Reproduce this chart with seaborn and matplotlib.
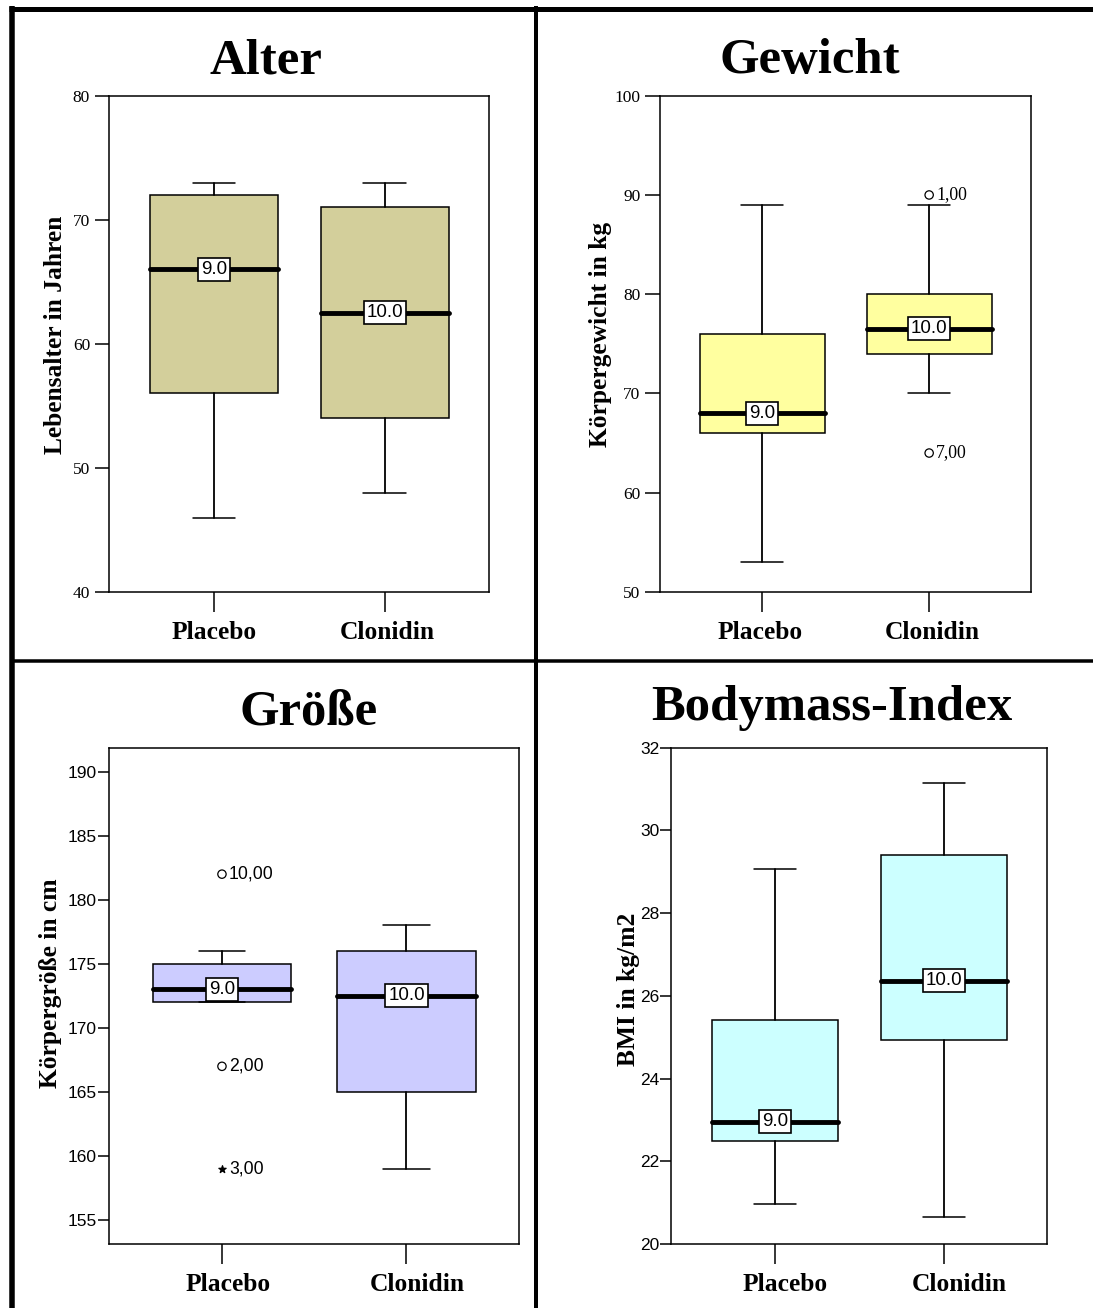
import matplotlib
matplotlib.use("Agg")
import matplotlib.pyplot as plt
import seaborn as sns
from matplotlib.lines import Line2D
from matplotlib.transforms import ScaledTranslation

# ---------------------------------------------------------------- data
groups = ["Placebo", "Clonidin"]
n_cases = [9.0, 10.0]

alter_lo = [46, 48]
alter_q1 = [56, 54]
alter_med = [66, 62.5]
alter_q3 = [72, 71]
alter_hi = [73, 73]

gewicht_lo = [53, 70]
gewicht_q1 = [66, 74]
gewicht_med = [68, 76.5]
gewicht_q3 = [76, 80]
gewicht_hi = [89, 89]
gewicht_out_group = ["Clonidin", "Clonidin"]
gewicht_out_value = [90, 64]
gewicht_out_case = ["1,00", "7,00"]
gewicht_out_kind = ["o", "o"]

groesse_lo = [172, 159]
groesse_q1 = [172, 165]
groesse_med = [173, 172.5]
groesse_q3 = [175, 176]
groesse_hi = [176, 178]
groesse_out_group = ["Placebo", "Placebo", "Placebo"]
groesse_out_value = [182, 167, 159]
groesse_out_case = ["10,00", "2,00", "3,00"]
groesse_out_kind = ["o", "o", "*"]

bmi_lo = [20.97, 20.66]
bmi_q1 = [22.48, 24.93]
bmi_med = [22.95, 26.36]
bmi_q3 = [25.41, 29.40]
bmi_hi = [29.06, 31.14]

alter_ticks = [40, 50, 60, 70, 80]
gewicht_ticks = [50, 60, 70, 80, 90, 100]
groesse_ticks = [155, 160, 165, 170, 175, 180, 185, 190]
bmi_ticks = [20, 22, 24, 26, 28, 30, 32]

# ---------------------------------------------------------------- style
sns.set_theme(style="ticks")
plt.rcParams["font.family"] = ["Liberation Serif", "DejaVu Serif"]
plt.rcParams.update({
    "axes.edgecolor": "black",
    "axes.linewidth": 1.1,
    "text.color": "black",
    "axes.labelcolor": "black",
    "xtick.color": "black",
    "ytick.color": "black",
})

SERIF = ["Liberation Serif", "DejaVu Serif"]
SANS = ["Liberation Sans", "DejaVu Sans"]

W, H = 1093, 1308
PX = 0.72  # points per pixel at 100 dpi
fig = plt.figure(figsize=(W / 100, H / 100), dpi=100)
fig.patch.set_facecolor("white")


def rect(l, t, r, b):
    return [l / W, 1 - b / H, (r - l) / W, (b - t) / H]


def panel(box, lo, q1, med, q3, hi, color, ylim, ticks, tick_font,
          tick_len, tick_pad, label_shift, title, title_xy, ylabel, ylabel_xy,
          outliers=None, out_font=None, out_size=12.5):
    ax = fig.add_axes(rect(*box))
    pos = list(range(len(groups)))
    stats = [dict(label=g, whislo=a, q1=b, med=c, q3=d, whishi=e, fliers=[])
             for g, a, b, c, d, e in zip(groups, lo, q1, med, q3, hi)]
    ax.bxp(stats, positions=pos, widths=0.75, capwidths=0.25,
           patch_artist=True, showfliers=False, manage_ticks=False,
           boxprops=dict(facecolor=color, edgecolor="black", linewidth=1.1),
           whiskerprops=dict(color="black", linewidth=1.3),
           capprops=dict(color="black", linewidth=1.1),
           medianprops=dict(color="black", linewidth=3.5,
                            solid_capstyle="round"))
    # case counts on the median lines
    for p, m, n in zip(pos, med, n_cases):
        ax.text(p, m, f"{n:.1f}", ha="center", va="center", fontsize=13.5,
                family=SANS, color="black", zorder=6,
                bbox=dict(boxstyle="square,pad=0.16", fc="white",
                          ec="black", lw=1.2))
    # outliers and extreme values with their case numbers
    if outliers is not None:
        og, ov, oc, ok = outliers
        for kind in sorted(set(ok)):
            xs = [groups.index(g) for g, k in zip(og, ok) if k == kind]
            ys = [v for v, k in zip(ov, ok) if k == kind]
            sns.scatterplot(x=xs, y=ys, marker=kind,
                            s=36 if kind == "o" else 30,
                            facecolor="none" if kind == "o" else "black",
                            edgecolor="black", linewidth=0.9, ax=ax,
                            legend=False, zorder=5)
        for g, v, c in zip(og, ov, oc):
            ax.annotate(c, (groups.index(g), v), xytext=(5.0, 0),
                        textcoords="offset points", ha="left", va="center",
                        fontsize=out_size, family=out_font, color="black")

    ax.set_xlim(-0.615, 1.61)
    ax.set_ylim(*ylim)
    ax.set_yticks(ticks)
    ax.set_yticklabels([str(t) for t in ticks])
    ax.set_xticks(pos)
    ax.set_xticklabels(groups)
    ax.tick_params(axis="y", direction="out", length=tick_len * PX,
                   width=1.1, pad=tick_pad * PX, labelsize=12.5,
                   labelfontfamily=tick_font[0], colors="black")
    ax.tick_params(axis="x", direction="out", length=20 * PX, width=1.1,
                   pad=9.4 * PX, labelsize=18.4, colors="black")
    for lab, dx in zip(ax.get_xticklabels(), label_shift):
        lab.set_fontweight("bold")
        lab.set_family(SERIF)
        lab.set_color("black")
        lab.set_transform(lab.get_transform()
                          + ScaledTranslation(dx / 100, 0, fig.dpi_scale_trans))
    for s in ax.spines.values():
        s.set_visible(True)
        s.set_color("black")
        s.set_linewidth(1.1)
    ax.set_facecolor("white")
    ax.grid(False)

    fig.text(title_xy[0] / W, 1 - title_xy[1] / H, title, ha="center",
             va="baseline", fontsize=36.5, fontweight="bold", family=SERIF,
             color="black")
    fig.text(ylabel_xy[0] / W, 1 - ylabel_xy[1] / H, ylabel, ha="center",
             va="center", rotation=90, fontsize=18.4, fontweight="bold",
             family=SERIF, color="black")
    return ax


panel((109, 95.7, 489, 592), alter_lo, alter_q1, alter_med, alter_q3, alter_hi,
      "#D3CF9B", (40, 80), alter_ticks, SERIF, 14.5, 4.5, (0, 2),
      "Alter", (265.5, 73), "Lebensalter in Jahren", (56, 335))

panel((659.5, 95.7, 1031, 592), gewicht_lo, gewicht_q1, gewicht_med,
      gewicht_q3, gewicht_hi, "#FFFF9F", (50, 100), gewicht_ticks, SERIF,
      15.5, 3.4, (-2.5, 3), "Gewicht", (810, 73), "Körpergewicht in kg",
      (600, 334),
      outliers=(gewicht_out_group, gewicht_out_value, gewicht_out_case,
                gewicht_out_kind), out_font=SERIF, out_size=12.8)

panel((108.5, 747.7, 519, 1244), groesse_lo, groesse_q1, groesse_med,
      groesse_q3, groesse_hi, "#CCCCFF", (153.13, 191.87), groesse_ticks,
      SANS, 11, 0.5, (6.6, 11), "Größe", (309, 724.3), "Körpergröße in cm",
      (51, 983),
      outliers=(groesse_out_group, groesse_out_value, groesse_out_case,
                groesse_out_kind), out_font=SANS, out_size=12.7)

panel((671, 747.7, 1047, 1244), bmi_lo, bmi_q1, bmi_med, bmi_q3, bmi_hi,
      "#CCFFFF", (20, 32), bmi_ticks, SANS, 11, 0.3, (10, 15),
      "Bodymass-Index", (832, 720), "BMI in kg/m2", (628, 989))

# ---------------------------------------------------------------- frame
def frame_line(x0, y0, x1, y1, width_px):
    fig.add_artist(Line2D([x0 / W, x1 / W], [1 - y0 / H, 1 - y1 / H],
                          transform=fig.transFigure, color="black",
                          linewidth=width_px * PX, solid_capstyle="butt"))


frame_line(9, 8.5, W, 8.5, 5)         # top
frame_line(11.5, 6, 11.5, H, 5.5)     # left
frame_line(535.5, 6, 535.5, H, 4)     # middle vertical
frame_line(11, 661, W, 661, 3.5)      # middle horizontal

fig.savefig("out.png", dpi=100, facecolor="white")
